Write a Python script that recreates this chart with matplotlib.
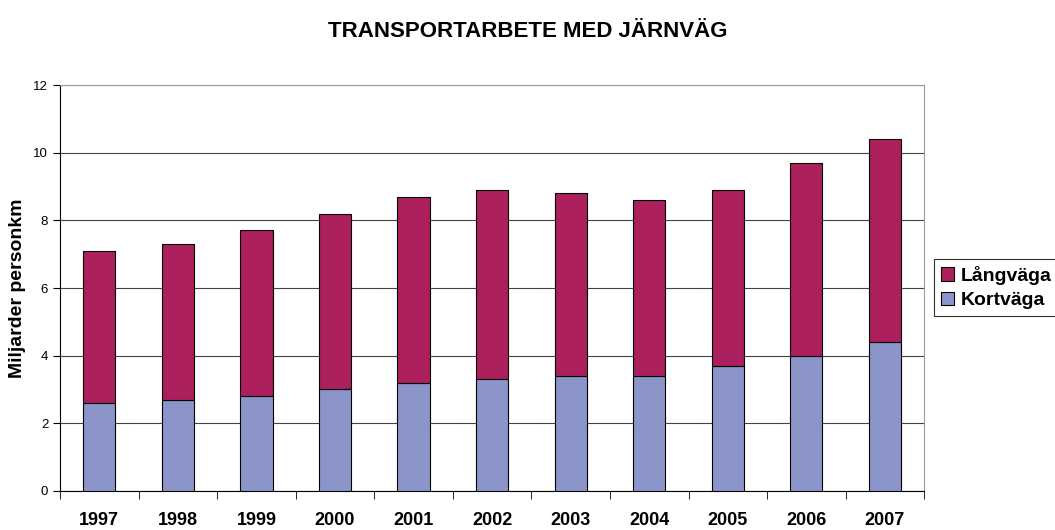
import numpy as np
import matplotlib.pyplot as plt

years = ['1997', '1998', '1999', '2000', '2001', '2002', '2003', '2004', '2005', '2006', '2007']
kortvaga = [2.6, 2.7, 2.8, 3.0, 3.2, 3.3, 3.4, 3.4, 3.7, 4.0, 4.4]
totalt = [7.1, 7.3, 7.7, 8.2, 8.7, 8.9, 8.8, 8.6, 8.9, 9.7, 10.4]
langvaga = [round(t - k, 1) for t, k in zip(totalt, kortvaga)]

plt.rcParams['font.family'] = ['Liberation Sans', 'DejaVu Sans']

fig = plt.figure(figsize=(10.55, 5.3), dpi=100)
ax = fig.add_axes([0.0569, 0.0736, 0.8191, 0.766])

x = np.arange(len(years))
w = 0.41
ax.bar(x, kortvaga, w, color='#8B95C9', edgecolor='black', linewidth=0.8,
       label='Kortväga', zorder=3)
ax.bar(x, langvaga, w, bottom=kortvaga, color='#AA1F5C', edgecolor='black',
       linewidth=0.8, label='Långväga', zorder=3)

ax.set_xlim(-0.5, len(years) - 0.5)
ax.set_ylim(0, 12)
ax.set_yticks(range(0, 13, 2))
ax.yaxis.grid(True, color='#444444', linewidth=0.8, zorder=0)
ax.tick_params(axis='y', labelsize=9.5, length=5, direction='out', color='black')

ax.set_xticks(x)
ax.set_xticklabels(years, fontsize=13, fontweight='bold')
ax.tick_params(axis='x', which='major', length=0, pad=15)
ax.set_xticks(np.arange(-0.5, len(years), 1), minor=True)
ax.tick_params(axis='x', which='minor', length=6, direction='out', color='black')

ax.spines['left'].set_color('black')
ax.spines['bottom'].set_color('black')
ax.spines['top'].set_color('#999999')
ax.spines['right'].set_color('#999999')

ax.set_ylabel('Miljarder personkm', fontsize=14, fontweight='bold', labelpad=5)
fig.suptitle('TRANSPORTARBETE MED JÄRNVÄG', fontsize=16, fontweight='bold', y=0.96)

handles, labels = ax.get_legend_handles_labels()
leg = fig.legend(handles[::-1], labels[::-1], loc='upper left',
                 bbox_to_anchor=(934 / 1055, 1 - 259 / 530), borderaxespad=0,
                 prop={'size': 14, 'weight': 'bold'}, frameon=True, fancybox=False,
                 edgecolor='black', handlelength=0.7, handleheight=0.7,
                 handletextpad=0.3, borderpad=0.35, labelspacing=0.35)
leg.get_frame().set_linewidth(0.8)

fig.savefig('out.png', dpi=100)
